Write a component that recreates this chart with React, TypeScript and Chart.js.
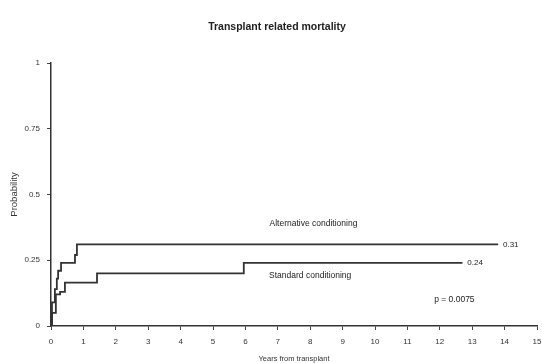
import { useEffect, useRef } from "react";
import { Chart, registerables } from "chart.js";
Chart.register(...registerables);

const chartTitle = "Transplant related mortality";
const xAxisTitle = "Years from transplant";
const yAxisTitle = "Probability";

const altYears = [0, 0.03, 0.12, 0.18, 0.22, 0.31, 0.74, 0.8, 13.8];
const altProb = [0, 0.09, 0.14, 0.18, 0.21, 0.24, 0.27, 0.31, 0.31];
const stdYears = [0, 0.03, 0.15, 0.28, 0.43, 1.42, 5.95, 12.7];
const stdProb = [0, 0.05, 0.12, 0.13, 0.165, 0.2, 0.24, 0.24];

const altLabel = "Alternative conditioning";
const stdLabel = "Standard conditioning";
const altEndLabel = "0.31";
const stdEndLabel = "0.24";
const pValueLabel = "p = 0.0075";

const FONT = "'Liberation Sans', Arial, sans-serif";

export default function App() {
  const ref = useRef<HTMLCanvasElement>(null);
  useEffect(() => {
    document.body.style.margin = "0";
    const canvas = ref.current!;
    const textPlugin = {
      id: "texts",
      afterDraw(chart: any) {
        const ctx = chart.ctx;
        const xs = chart.scales.x;
        const ys = chart.scales.y;
        ctx.save();
        ctx.fillStyle = "#222";
        ctx.textBaseline = "middle";
        ctx.textAlign = "center";
        ctx.font = `bold 10.5px ${FONT}`;
        ctx.fillText(chartTitle, 277, 27);
        ctx.font = `8.5px ${FONT}`;
        ctx.fillText(altLabel, xs.getPixelForValue(8.1), ys.getPixelForValue(0.39));
        ctx.fillText(stdLabel, xs.getPixelForValue(8.0), ys.getPixelForValue(0.19));
        ctx.fillText(pValueLabel, xs.getPixelForValue(12.45), ys.getPixelForValue(0.1));
        ctx.textAlign = "left";
        ctx.font = `8px ${FONT}`;
        ctx.fillText(altEndLabel, xs.getPixelForValue(13.95), ys.getPixelForValue(0.31));
        ctx.fillText(stdEndLabel, xs.getPixelForValue(12.85), ys.getPixelForValue(0.24));
        ctx.restore();
      },
    };
    const chart = new Chart(canvas, {
      type: "line",
      data: {
        datasets: [
          {
            label: altLabel,
            data: altYears.map((x, i) => ({ x, y: altProb[i] })),
            borderColor: "#333",
            borderWidth: 1.8,
            pointRadius: 0,
            stepped: "before",
            fill: false,
          },
          {
            label: stdLabel,
            data: stdYears.map((x, i) => ({ x, y: stdProb[i] })),
            borderColor: "#333",
            borderWidth: 1.8,
            pointRadius: 0,
            stepped: "before",
            fill: false,
          },
        ],
      },
      options: {
        responsive: false,
        animation: false,
        layout: { padding: { top: 63, right: 0, left: 0, bottom: 0 } },
        plugins: { legend: { display: false }, tooltip: { enabled: false }, title: { display: false } },
        scales: {
          x: {
            type: "linear",
            min: 0,
            max: 15,
            ticks: { stepSize: 1, color: "#333", font: { size: 8, family: FONT }, padding: 7 },
            grid: { drawOnChartArea: false, drawTicks: true, tickLength: 4, color: "#444" },
            border: { display: true, color: "#333", width: 1.5 },
            title: { display: true, text: xAxisTitle, color: "#333", font: { size: 7.5, family: FONT }, padding: { top: 1, bottom: 0 } },
            afterFit: (s: any) => { s.height = 37; s.paddingRight = 5; s.paddingLeft = 0; },
          },
          y: {
            type: "linear",
            min: 0,
            max: 1,
            ticks: { stepSize: 0.25, color: "#333", font: { size: 8, family: FONT }, padding: 7, callback: (v: any) => String(v) },
            grid: { drawOnChartArea: false, drawTicks: true, tickLength: 4, color: "#444" },
            border: { display: true, color: "#333", width: 1.5 },
            title: { display: true, text: yAxisTitle, color: "#333", font: { size: 9.5, family: FONT }, padding: { top: 9, bottom: 0 } },
            afterFit: (s: any) => { s.width = 51; },
          },
        },
      },
      plugins: [textPlugin],
    });
    return () => chart.destroy();
  }, []);
  return (
    <div style={{ width: 542, height: 363, background: "#fff" }}>
      <canvas ref={ref} width={542} height={363} />
    </div>
  );
}
